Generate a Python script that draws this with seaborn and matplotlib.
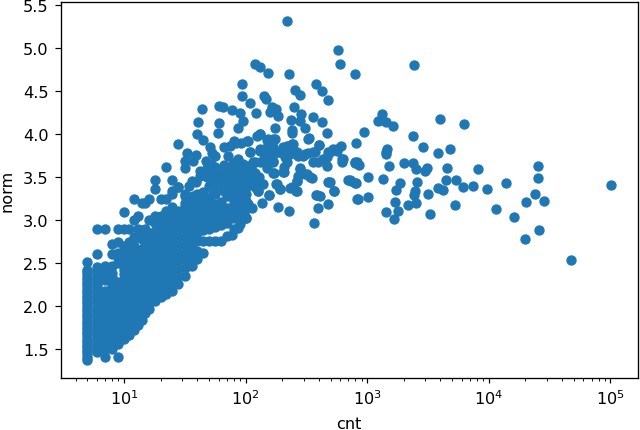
import matplotlib
matplotlib.use('Agg')
import pandas as pd
import seaborn as sns
import matplotlib.pyplot as plt

# Scattered points
sparse_cnt = [218, 571, 594, 119, 131, 152, 226, 93, 377, 255, 280, 423, 480, 94, 143, 147, 109, 44, 60, 65, 78, 90,
              165, 178, 159, 185, 122, 252, 287, 235, 361, 423, 280, 308, 95, 41, 60, 87, 173, 242, 241, 465, 40, 59,
              131, 123, 328, 173, 151, 45, 28, 105, 81, 92, 404, 612, 51, 66, 74, 33, 39, 53, 56, 72, 32, 37, 47, 109,
              131, 169, 330, 794]
sparse_norm = [5.318, 4.977, 4.818, 4.814, 4.78, 4.706, 4.694, 4.586, 4.582, 4.512, 4.454, 4.496, 4.392, 4.438, 4.442,
               4.407, 4.361, 4.295, 4.326, 4.31, 4.275, 4.24, 4.318, 4.29, 4.26, 4.21, 4.24, 4.318, 4.237, 4.167,
               4.202, 4.136, 4.148, 4.066, 4.148, 4.14, 4.128, 4.07, 4.066, 4.05, 4.01, 4.01, 4.0, 4.016, 4.0, 3.973,
               3.946, 3.946, 3.93, 3.927, 3.884, 3.915, 3.923, 3.892, 3.872, 3.865, 3.845, 3.845, 3.865, 3.78, 3.76,
               3.78, 3.748, 3.748, 3.69, 3.69, 3.69, 3.787, 3.806, 3.845, 3.95, 3.659]

# Ridge around norm 3.7
ridge_cnt = [140, 154, 169, 186, 204, 225, 239, 247, 272, 299, 328, 372, 436, 479, 526, 561, 628, 617, 361, 464, 396,
             79, 87, 96, 105, 119, 131, 149, 169, 207, 218, 280, 318, 349, 263, 272, 494, 699, 479, 180, 192, 239, 263,
             533, 379, 409, 156, 169, 207, 56, 66, 54, 74, 54, 42, 42, 39, 34, 28, 25, 62, 70, 84, 96, 116, 123, 136,
             127, 66, 79, 96, 54, 45, 37, 32, 74, 84,
             84, 102, 109, 131, 149, 169, 154, 131, 192, 218, 247, 263, 308, 360, 398, 465, 494, 561, 617, 84, 96, 116,
             140, 169, 211, 232, 79, 90, 102, 123, 116, 99, 82, 93, 79, 87]
ridge_norm = [3.787, 3.748, 3.768, 3.787, 3.845, 3.865, 3.884, 3.806, 3.748, 3.748, 3.78, 3.787, 3.71, 3.795, 3.826,
              3.806, 3.71, 3.68, 3.67, 3.632, 3.68, 3.651, 3.71, 3.651, 3.632, 3.671, 3.671, 3.632, 3.671, 3.612,
              3.671, 3.593, 3.535, 3.485, 3.458, 3.516, 3.446, 3.465, 3.438, 3.419, 3.36, 3.38, 3.341, 3.334, 3.291,
              3.283, 3.295, 3.547, 3.554, 3.613, 3.64, 3.554, 3.535, 3.477, 3.574, 3.516, 3.438, 3.40, 3.38, 3.341,
              3.438, 3.419, 3.477, 3.458, 3.535, 3.438, 3.419, 3.341, 3.341, 3.341, 3.36, 3.341, 3.283, 3.283, 3.275,
              3.283, 3.264,
              3.90, 3.92, 3.787, 3.825, 3.845, 3.94, 3.94, 4.0, 3.787, 3.864, 3.884, 3.787, 3.767, 3.787, 3.876, 3.729,
              3.787, 3.825, 3.71, 3.67, 3.63, 3.67, 3.69, 3.69, 3.729, 3.767, 3.515, 3.477, 3.457, 3.438, 3.554, 3.573,
              3.399, 3.38, 3.283, 3.32]

# Extra points inside the blob under the ridge
fill_cnt = [48, 48, 52, 52, 58, 58, 64, 64, 68, 76, 76, 82, 82, 88, 88, 100, 100, 100, 110, 110, 120, 120, 130, 150,
            150]
fill_norm = [3.50, 3.60, 3.42, 3.65, 3.50, 3.42, 3.55, 3.48, 3.58, 3.45, 3.60, 3.42, 3.55, 3.50, 3.60, 3.55, 3.38,
             3.30, 3.45, 3.60, 3.55, 3.38, 3.50, 3.70, 3.60]

# Right hand tail
tail_cnt = [794, 2410, 1323, 1236, 1291, 1419, 1620, 3990, 6290, 942, 2366, 804, 2897, 1466, 1436, 1436, 3802, 4831,
            794, 819, 861, 2018, 2382, 1503, 2506, 3126, 2972, 4529, 8091, 25400, 25560, 1021, 1340, 736, 809, 1862,
            1714, 2553, 4446, 5408, 6095, 7362, 9661, 13930, 3846, 4178, 3184, 2472, 2443, 23820, 20370, 28640, 835,
            1021, 1682, 2535, 2153, 5236, 11400, 1782, 1419, 3304, 1672, 16030, 25880, 19860, 47750, 101100]
tail_norm = [4.694, 4.806, 4.233, 4.155, 4.167, 4.136, 4.09, 4.175, 4.12, 4.02, 3.98, 3.892, 3.845, 3.826, 3.795,
             3.768, 3.78, 3.826, 3.67, 3.67, 3.64, 3.667, 3.667, 3.632, 3.593, 3.605, 3.566, 3.609, 3.593, 3.628,
             3.489, 3.504, 3.477, 3.458, 3.43, 3.427, 3.35, 3.446, 3.469, 3.461, 3.38, 3.392, 3.365, 3.434, 3.368,
             3.353, 3.306, 3.341, 3.291, 3.299, 3.21, 3.225, 3.24, 3.268, 3.206, 3.194, 3.171, 3.171, 3.132, 3.105,
             3.089, 3.07, 3.016, 3.035, 2.88, 2.783, 2.535, 3.411]

# Lower edge of the ridge
edge_cnt = [365, 229, 185, 394, 473, 818, 100, 87, 77, 112, 105, 137, 156, 384, 533, 485, 721, 794, 260, 232, 192, 178,
            171, 263, 280, 339, 308, 204, 127, 140, 127, 84]
edge_norm = [2.965, 3.108, 3.151, 3.139, 3.19, 3.24, 3.019, 2.907, 2.825, 3.139, 3.186, 3.2, 3.294, 3.29, 3.337, 3.446,
             3.469, 3.426, 3.337, 3.376, 3.36, 3.42, 3.542, 3.457, 3.6, 3.496, 3.535, 3.554, 3.341, 3.418, 3.457, 3.225]

# Dense part, counts are whole numbers here so points stack in columns
col_5 = [1.37, 1.40, 1.43, 1.46, 1.49, 1.52, 1.55, 1.58, 1.61, 1.64, 1.67, 1.70, 1.73, 1.76, 1.79, 1.82, 1.85, 1.88,
         1.91, 1.94, 1.97, 2.00, 2.03, 2.06, 2.09, 2.12, 2.15, 2.18, 2.21, 2.24, 2.27, 2.30, 2.33, 2.36, 2.39, 2.42,
         2.51]
col_6 = [1.46, 1.49, 1.52, 1.55, 1.58, 1.61, 1.64, 1.67, 1.70, 1.73, 1.76, 1.79, 1.82, 1.85, 1.88, 1.91, 1.94, 1.97,
         2.00, 2.03, 2.06, 2.09, 2.12, 2.15, 2.18, 2.21, 2.24, 2.27, 2.30, 2.33, 2.36, 2.39, 2.42, 2.45, 2.60, 2.89]
col_7 = [1.41, 1.50, 1.54, 1.58, 1.62, 1.66, 1.70, 1.74, 1.78, 1.82, 1.86, 1.90, 1.94, 1.98, 2.02, 2.06, 2.10, 2.14,
         2.18, 2.30, 2.34, 2.38, 2.42, 2.46, 2.89]
col_8 = [1.50, 1.54, 1.58, 1.62, 1.66, 1.70, 1.74, 1.78, 1.82, 1.86, 1.90, 1.94, 1.98, 2.02, 2.06, 2.10, 2.14, 2.18,
         2.22, 2.26, 2.30, 2.34, 2.38, 2.46, 2.60, 2.72]
col_9 = [1.41, 1.56, 1.60, 1.64, 1.68, 1.72, 1.76, 1.80, 1.84, 1.88, 1.92, 1.96, 2.00, 2.04, 2.08, 2.12, 2.16, 2.20,
         2.24, 2.28, 2.50, 2.56, 2.62, 2.74, 2.89]
col_10 = [1.62, 1.67, 1.72, 1.77, 1.82, 1.87, 1.92, 1.97, 2.02, 2.07, 2.12, 2.17, 2.22, 2.27, 2.32, 2.37, 2.42, 2.47,
          2.52, 2.57, 2.62, 2.70, 2.89, 3.09]
col_11 = [1.66, 1.71, 1.76, 1.81, 1.86, 1.91, 1.96, 2.01, 2.06, 2.11, 2.16, 2.21, 2.26, 2.31, 2.36, 2.41, 2.46, 2.51,
          2.56, 2.61, 2.66, 2.75, 2.89]
col_12 = [1.72, 1.78, 1.84, 1.90, 1.96, 2.02, 2.08, 2.14, 2.20, 2.26, 2.32, 2.38, 2.44, 2.50, 2.56, 2.62, 2.70, 2.80,
          3.00, 3.24]
col_13 = [1.78, 1.84, 1.90, 1.96, 2.02, 2.08, 2.14, 2.20, 2.26, 2.32, 2.38, 2.44, 2.50, 2.58, 2.80, 2.89, 3.05]
col_14 = [1.84, 1.90, 1.96, 2.02, 2.08, 2.14, 2.20, 2.26, 2.32, 2.38, 2.44, 2.50, 2.56, 2.66, 2.78, 2.88, 3.20]
col_15 = [1.92, 1.98, 2.04, 2.10, 2.16, 2.22, 2.28, 2.34, 2.40, 2.46, 2.52, 2.58, 2.64, 2.73, 2.82, 2.90, 3.20]
col_16 = [1.96, 2.03, 2.10, 2.17, 2.24, 2.31, 2.38, 2.45, 2.52, 2.59, 2.68, 2.77, 2.85, 3.00, 3.24]
col_18 = [2.06, 2.13, 2.20, 2.27, 2.34, 2.41, 2.48, 2.55, 2.62, 2.69, 2.78, 2.87, 2.96, 3.05, 3.36, 3.46]
col_20 = [2.10, 2.19, 2.28, 2.37, 2.46, 2.55, 2.64, 2.73, 2.82, 2.91, 3.00, 3.05, 3.25]
col_22 = [2.14, 2.23, 2.32, 2.41, 2.50, 2.59, 2.68, 2.77, 2.86, 2.95, 3.04, 3.10, 3.25, 3.62]
col_25 = [2.18, 2.27, 2.36, 2.45, 2.54, 2.63, 2.72, 2.81, 2.90, 2.99, 3.08, 3.15, 3.30, 3.46]
col_28 = [2.26, 2.35, 2.44, 2.53, 2.62, 2.71, 2.80, 2.89, 2.98, 3.05, 3.10, 3.38]
col_32 = [2.35, 2.44, 2.53, 2.62, 2.71, 2.80, 2.89, 2.98, 3.07, 3.16, 3.20, 3.30, 3.60]
col_36 = [2.46, 2.55, 2.64, 2.73, 2.82, 2.91, 3.00, 3.09, 3.18, 3.27, 3.45]
col_40 = [2.55, 2.64, 2.76, 2.85, 2.94, 3.03, 3.12, 3.21, 3.30]
col_45 = [2.62, 2.76, 2.88, 2.97, 3.06, 3.15, 3.24, 3.33]
col_50 = [2.76, 2.90, 2.99, 3.08, 3.17, 3.26, 3.40, 3.50]
col_56 = [2.76, 2.92, 3.01, 3.10, 3.19, 3.30]
col_63 = [2.76, 2.94, 3.03, 3.12, 3.21, 3.40]
col_70 = [2.82, 2.96, 3.05, 3.14, 3.28]
col_80 = [2.90, 3.02, 3.11, 3.20]
col_90 = [2.95, 3.06, 3.15, 3.24]
col_100 = [3.02, 3.13, 3.22]

columns = {5: col_5, 6: col_6, 7: col_7, 8: col_8, 9: col_9, 10: col_10, 11: col_11, 12: col_12, 13: col_13,
           14: col_14, 15: col_15, 16: col_16, 18: col_18, 20: col_20, 22: col_22, 25: col_25, 28: col_28,
           32: col_32, 36: col_36, 40: col_40, 45: col_45, 50: col_50, 56: col_56, 63: col_63, 70: col_70,
           80: col_80, 90: col_90, 100: col_100}

dense = pd.DataFrame([(c, n) for c, vals in columns.items() for n in vals], columns=['cnt', 'norm'])
df = pd.concat([
    dense,
    pd.DataFrame({'cnt': sparse_cnt, 'norm': sparse_norm}),
    pd.DataFrame({'cnt': ridge_cnt, 'norm': ridge_norm}),
    pd.DataFrame({'cnt': fill_cnt, 'norm': fill_norm}),
    pd.DataFrame({'cnt': tail_cnt, 'norm': tail_norm}),
    pd.DataFrame({'cnt': edge_cnt, 'norm': edge_norm}),
], ignore_index=True)

plt.rcParams['font.size'] = 10.9
plt.rcParams['axes.linewidth'] = 0.9
plt.rcParams['xtick.major.size'] = 3.5
plt.rcParams['ytick.major.size'] = 4
plt.rcParams['ytick.major.pad'] = 4

fig = plt.figure(figsize=(6.0, 4.04), dpi=106.67)
ax = fig.add_axes([60.5 / 640, 1 - 379 / 431, (638 - 60.5) / 640, 376 / 431])

sns.scatterplot(data=df, x='cnt', y='norm', color='#1f77b4', s=36, edgecolor='#1f77b4', linewidth=1, ax=ax)
ax.set_xscale('log')
ax.set_xlim(3.007, 168700)
ax.set_ylim(1.163, 5.535)
ax.set_yticks([1.5, 2.0, 2.5, 3.0, 3.5, 4.0, 4.5, 5.0, 5.5])
ax.xaxis.labelpad = 6
ax.yaxis.labelpad = 6

fig.savefig('out.png', dpi=106.67)
